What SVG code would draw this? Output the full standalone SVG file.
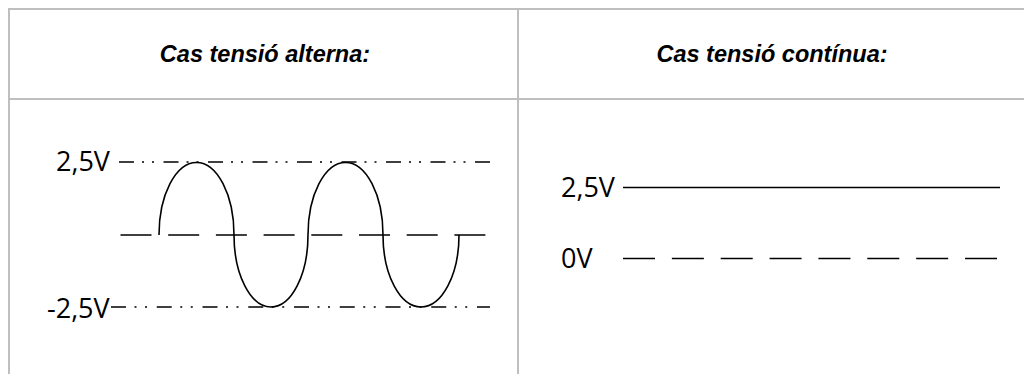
<svg xmlns="http://www.w3.org/2000/svg" width="1024" height="374" viewBox="0 0 1024 374">
<style>
.grid{stroke:#bfbfbf;stroke-width:2;fill:none}
.head{font-family:"Liberation Sans",Arial,sans-serif;font-weight:bold;font-style:italic;font-size:23.5px;fill:#000;text-anchor:middle}
.lbl{font-family:"Open Sans","Noto Sans",sans-serif;font-size:27px;fill:#000}
.dd{stroke:#000;stroke-width:1.6;fill:none;stroke-dasharray:15 8 2 8 2 9.5}
.dd2{stroke:#000;stroke-width:1.6;fill:none;stroke-dasharray:15 8.5 2 8.5 2 9.75}
.dash{stroke:#000;stroke-width:1.6;fill:none;stroke-dasharray:31 16.7}
.dash2{stroke:#000;stroke-width:1.6;fill:none;stroke-dasharray:32 16.86}
.solid{stroke:#000;stroke-width:1.5;fill:none}
.wave{stroke:#000;stroke-width:1.6;fill:none}
</style>
<rect width="1024" height="374" fill="#fff"/>
<g id="table">
<line class="grid" x1="8" y1="9" x2="1024" y2="9"/>
<line class="grid" x1="8" y1="99" x2="1024" y2="99"/>
<line class="grid" x1="9" y1="8" x2="9" y2="374"/>
<line class="grid" x1="518" y1="8" x2="518" y2="374"/>
</g>
<g id="header-ac"><text class="head" x="265" y="62">Cas tensió alterna:</text></g>
<g id="header-dc"><text class="head" x="772" y="62">Cas tensió contínua:</text></g>
<g id="ac-labels">
<text class="lbl" x="56" y="171">2,5V</text>
<text class="lbl" x="47" y="318">-2,5V</text>
</g>
<g id="dc-labels">
<text class="lbl" x="561" y="197">2,5V</text>
<text class="lbl" x="561" y="268">0V</text>
</g>
<g id="connectors">
<line class="dd" x1="119" y1="162" x2="490" y2="162"/>
<line class="dd2" x1="111" y1="307" x2="490" y2="307"/>
<line class="dash" x1="120.5" y1="235" x2="486" y2="235"/>
<path class="wave" d="M159,235 A37.5,72.5 0 0 1 234,235 A37,72 0 0 0 308,235 A37.5,72.5 0 0 1 383,235 A38,72 0 0 0 459,235"/>
<line class="solid" x1="623" y1="187.5" x2="1000" y2="187.5"/>
<line class="dash2" x1="623" y1="258.5" x2="997" y2="258.5"/>
</g>
</svg>
